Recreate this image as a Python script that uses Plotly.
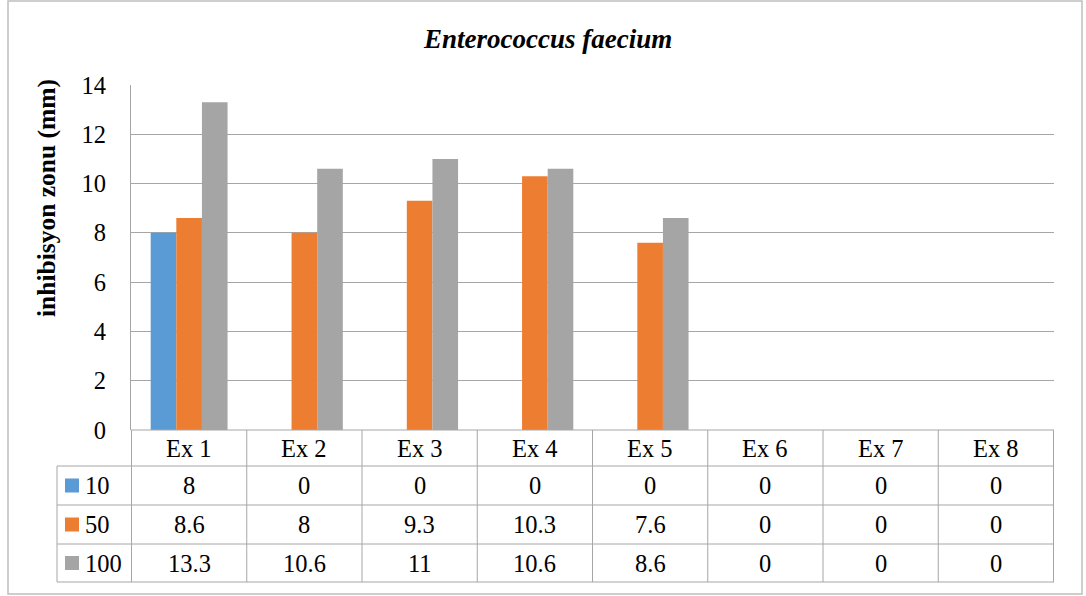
import plotly.graph_objects as go

# Inhibition zone data (mm) per extract and concentration
categories = ["Ex 1", "Ex 2", "Ex 3", "Ex 4", "Ex 5", "Ex 6", "Ex 7", "Ex 8"]
series_names = ["10", "50", "100"]
vals_10 = [8, 0, 0, 0, 0, 0, 0, 0]
vals_50 = [8.6, 8, 9.3, 10.3, 7.6, 0, 0, 0]
vals_100 = [13.3, 10.6, 11, 10.6, 8.6, 0, 0, 0]
y_ticks = [0, 2, 4, 6, 8, 10, 12, 14]

series_values = [vals_10, vals_50, vals_100]
colors = ["#5B9BD5", "#ED7D31", "#A5A5A5"]

W, H = 1086, 596
FONT = "Liberation Serif"
TXT = 24.5
LINE = "#A6A6A6"


def px(x):
    return x / W


def py(y):
    return 1 - y / H


# plot area in pixels
PL, PR, PT, PB = 131, 1054, 85, 430
# table row boundaries
ROWS = [430, 466, 505, 544, 582]
LEFT_COL = 57

fig = go.Figure()
for name, vals, col in zip(series_names, series_values, colors):
    fig.add_trace(go.Bar(
        x=categories, y=vals, name=name,
        marker=dict(color=col, line=dict(width=0)),
        showlegend=False,
    ))

shapes = []
annotations = []

# chart area border
shapes.append(dict(type="rect", xref="paper", yref="paper",
                   x0=px(8), x1=px(1082), y0=py(594), y1=py(1),
                   line=dict(color="#BFBFBF", width=1.5), fillcolor="rgba(0,0,0,0)",
                   layer="below"))

# data table horizontal rules
for i, ry in enumerate(ROWS):
    x0 = PL if i == 0 else LEFT_COL
    shapes.append(dict(type="line", xref="paper", yref="paper",
                       x0=px(x0), x1=px(PR), y0=py(ry), y1=py(ry),
                       line=dict(color=LINE, width=1)))
# data table vertical rules on category boundaries
for i in range(len(categories) + 1):
    shapes.append(dict(type="line", xref="x", yref="paper",
                       x0=i - 0.5, x1=i - 0.5, y0=py(ROWS[0]), y1=py(ROWS[-1]),
                       line=dict(color=LINE, width=1)))
# left column of the table
shapes.append(dict(type="line", xref="paper", yref="paper",
                   x0=px(LEFT_COL), x1=px(LEFT_COL), y0=py(ROWS[1]), y1=py(ROWS[-1]),
                   line=dict(color=LINE, width=1)))

# header row
hy = (ROWS[0] + ROWS[1]) / 2
for i, c in enumerate(categories):
    annotations.append(dict(x=i, y=py(hy), xref="x", yref="paper", text=c,
                            showarrow=False, font=dict(family=FONT, size=TXT, color="#000"),
                            xanchor="center", yanchor="middle"))

# series rows with legend keys
for r, (name, vals, col) in enumerate(zip(series_names, series_values, colors)):
    top, bot = ROWS[r + 1], ROWS[r + 2]
    cy = (top + bot) / 2
    shapes.append(dict(type="rect", xref="paper", yref="paper",
                       x0=px(65), x1=px(79), y0=py(cy + 7), y1=py(cy - 7),
                       fillcolor=col, line=dict(width=0)))
    annotations.append(dict(x=px(83), y=py(cy), xref="paper", yref="paper", text=name,
                            showarrow=False, font=dict(family=FONT, size=TXT, color="#000"),
                            xanchor="left", yanchor="middle"))
    for i, v in enumerate(vals):
        annotations.append(dict(x=i, y=py(cy), xref="x", yref="paper", text=f"{v:g}",
                                showarrow=False, font=dict(family=FONT, size=TXT, color="#000"),
                                xanchor="center", yanchor="middle"))

# title and axis title
annotations.append(dict(x=px(547), y=py(39), xref="paper", yref="paper",
                        text="<b><i>Enterococcus faecium</i></b>", showarrow=False,
                        font=dict(family=FONT, size=27, color="#000"),
                        xanchor="center", yanchor="middle"))
annotations.append(dict(x=px(46), y=py(198), xref="paper", yref="paper",
                        text="<b>inhibisyon zonu (mm)</b>", showarrow=False, textangle=-90,
                        font=dict(family=FONT, size=25.5, color="#000"),
                        xanchor="center", yanchor="middle"))

fig.update_layout(
    width=W, height=H, autosize=False,
    margin=dict(l=0, r=0, t=0, b=0, pad=0, autoexpand=False),
    paper_bgcolor="white", plot_bgcolor="white",
    barmode="group", bargap=0.333, bargroupgap=0,
    xaxis=dict(domain=[px(PL), px(PR)], showticklabels=False, ticks="",
               showgrid=False, zeroline=False, showline=False, fixedrange=True,
               automargin=False),
    yaxis=dict(domain=[py(PB), py(PT)], range=[0, 14], tickvals=y_ticks,
               showgrid=True, gridcolor=LINE, gridwidth=1, zeroline=False,
               showline=True, linecolor=LINE, linewidth=1, ticks="",
               ticklabelstandoff=19, automargin=False, fixedrange=True,
               tickfont=dict(family=FONT, size=TXT, color="#000")),
    shapes=shapes,
    annotations=annotations,
)

fig.write_html("out.html")
